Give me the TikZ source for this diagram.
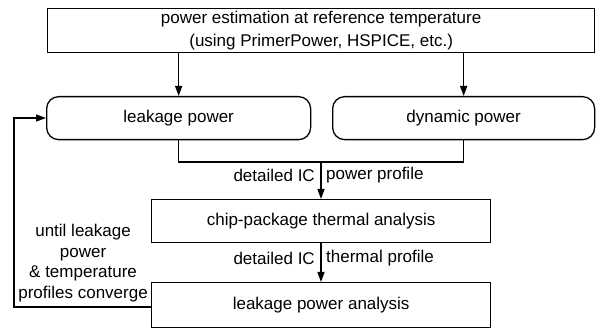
\documentclass[tikz,border=0pt]{standalone}
\usepackage{fontspec}
\setmainfont{Liberation Sans}
\usetikzlibrary{arrows.meta}
\begin{document}
\begin{tikzpicture}[x=1pt,y=-1pt,
  font=\fontsize{17}{20.7}\selectfont,
  box/.style={draw,line width=1.3pt,inner sep=0pt,anchor=north west},
  rbox/.style={box,rounded corners=12pt},
  flow/.style={line width=1.3pt,-{Triangle[length=10pt,width=7pt]}},
  lbl/.style={inner sep=0pt}]
\useasboundingbox (0,0) rectangle (598,328);
\node[box,minimum width=547pt,minimum height=44pt,align=center,
  font=\fontsize{17}{22.3}\selectfont] (est) at (47,8)
  {power estimation at reference temperature\\(using PrimerPower, HSPICE, etc.)};
\node[rbox,minimum width=264pt,minimum height=43pt] (leak) at (46,96) {leakage power};
\node[rbox,minimum width=262pt,minimum height=43pt] (dyn) at (332,96) {dynamic power};
\node[box,minimum width=339pt,minimum height=43pt] (chip) at (151,199) {chip-package thermal analysis};
\node[box,minimum width=339pt,minimum height=45pt] (lpa) at (151,282) {leakage power analysis};
\coordinate (merge) at (321,162);
\coordinate (back) at (14,118);
\draw[flow] (est.south -| leak.north) -- (leak.north);
\draw[flow] (est.south -| dyn.north) -- (dyn.north);
\draw[line width=1.3pt] (leak.south) |- (merge) -| (dyn.south);
\draw[flow] (merge) -- (chip.north -| merge);
\draw[flow] (chip.south -| merge) -- (lpa.north -| merge);
\draw[flow] (lpa.west |- 0,307) -| (back) -- (leak.west |- back);
\node[lbl,anchor=east] (p1) at (315,175) {detailed IC};
\node[lbl,anchor=west] (p2) at (326,175) {power profile};
\node[lbl,anchor=east] (t1) at (315,258) {detailed IC};
\node[lbl,anchor=west] (t2) at (326,258) {thermal profile};
\node[lbl,align=center,anchor=east] (conv) at (148,263)
  {until leakage\\power\\\& temperature\\profiles converge};
\end{tikzpicture}
\end{document}
